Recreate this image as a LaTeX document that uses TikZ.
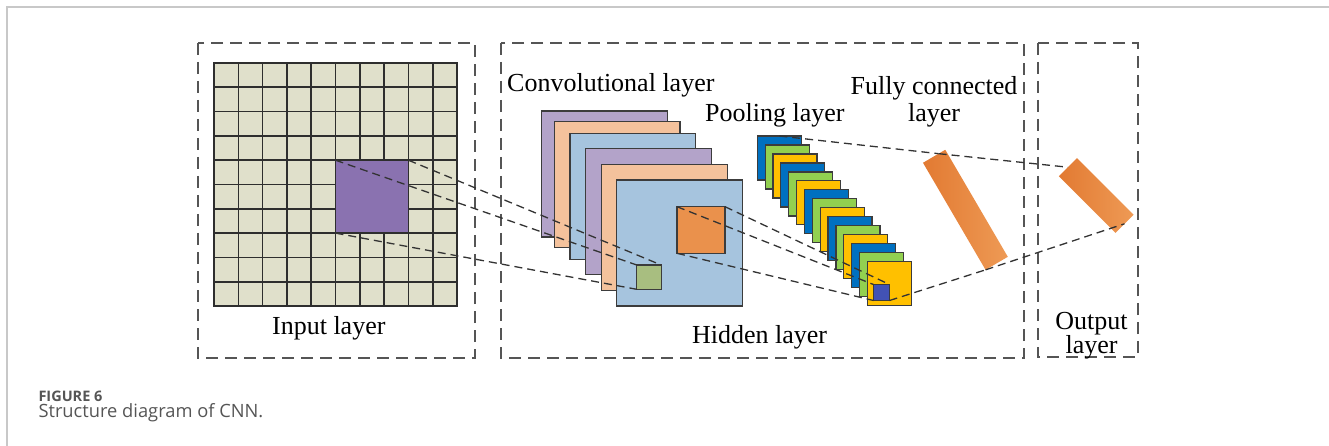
\documentclass[tikz,border=0pt]{standalone}
\usepackage{fontspec}
\setmainfont{Liberation Serif}
\newfontfamily\capfont{Open Sans}
\usetikzlibrary{calc}

\definecolor{gridfill}{HTML}{E0E0CB}
\definecolor{gridline}{HTML}{2E2E2E}
\definecolor{kernel}{HTML}{8A72B0}
\definecolor{lav}{HTML}{B3A3C9}
\definecolor{peach}{HTML}{F4C29C}
\definecolor{sky}{HTML}{A6C4DE}
\definecolor{fmapc}{HTML}{EA914C}
\definecolor{patchc}{HTML}{A8BE80}
\definecolor{pb}{HTML}{0070C0}
\definecolor{pg}{HTML}{92D050}
\definecolor{py}{HTML}{FFC000}
\definecolor{unitc}{HTML}{4252B5}
\definecolor{barlight}{HTML}{EE9A55}
\definecolor{bardark}{HTML}{E27A32}
\definecolor{edge}{HTML}{3C3C3C}
\definecolor{boxline}{HTML}{555555}
\definecolor{linkc}{HTML}{333333}
\definecolor{framec}{HTML}{C8C8C8}
\definecolor{capgray}{HTML}{555555}

\tikzset{
  box/.style={draw=boxline, line width=1.5pt, dash pattern=on 12pt off 7pt},
  sheet/.style={draw=edge, line width=1.4pt, anchor=north west, inner sep=0pt, outer sep=0pt,
                minimum width=125.5pt, minimum height=126pt},
  psheet/.style={draw=edge, line width=1.2pt, anchor=north west, inner sep=0pt, outer sep=0pt,
                 minimum width=44pt, minimum height=44pt},
  square/.style={draw=edge, line width=1.4pt, anchor=north west, inner sep=0pt, outer sep=0pt},
  bar/.style={inner sep=0pt, outer sep=0pt, left color=bardark, right color=barlight},
  link/.style={draw=linkc, line width=1.3pt, dash pattern=on 8pt off 5pt},
  lbl/.style={font=\fontsize{26}{28}\selectfont, inner sep=0pt},
  gridrule/.style={draw=gridline, line width=1.6pt},
}

\begin{document}
\begin{tikzpicture}[x=1pt,y=-1pt]
\useasboundingbox (0,0) rectangle (1329,446);

% page frame
\draw[draw=framec, line width=1.5pt] (7,446) -- (7,7) -- (1329,7);

% dashed group boxes
\draw[box] (198,43) rectangle (475,358);
\draw[box] (501,43) rectangle (1024,358);
\draw[box] (1038,43) rectangle (1138,357);

% input grid 10 x 10
\node[gridrule, fill=gridfill, anchor=north west, inner sep=0pt, outer sep=0pt,
      minimum width=243pt, minimum height=243pt] (input) at (214,63) {};
\foreach \i in {1,...,9}{
  \draw[gridrule] ($(input.north west)+(\i*24.3,0)$) -- ($(input.south west)+(\i*24.3,0)$);
  \draw[gridrule] ($(input.north west)+(0,\i*24.3)$) -- ($(input.north east)+(0,\i*24.3)$);
}
\node[square, fill=kernel, draw=gridline, minimum width=72.9pt, minimum height=72.9pt] (kern) at (335.5,160.2) {};

% convolutional feature maps
\node[sheet, fill=lav]   (c1) at (541.7,111) {};
\node[sheet, fill=peach] (c2) at (554.3,121.7) {};
\node[sheet, fill=sky]   (c3) at (570,133.3) {};
\node[sheet, fill=lav]   (c4) at (585.7,148.3) {};
\node[sheet, fill=peach] (c5) at (601.7,164.3) {};
\node[sheet, fill=sky]   (c6) at (616.7,180) {};
\node[square, fill=fmapc, minimum width=48pt, minimum height=46.6pt] (fmap) at (677,206.7) {};
\node[square, fill=patchc, minimum width=24.5pt, minimum height=24.3pt] (patch) at (636.7,265) {};

% pooling maps
\foreach \i/\c in {0/pb,1/pg,2/py,3/pb,4/pg,5/py,6/pb,7/pg,8/py,9/pb,10/pg,11/py,12/pb,13/pg,14/py}{
  \node[psheet, fill=\c] (p\i) at (757.3+\i*7.86, 136+\i*8.98) {};
}
\node[square, fill=unitc, line width=1.2pt, minimum width=16pt, minimum height=16pt] (unit) at (873.5,284.5) {};

% fully connected and output bars
\node[bar, minimum width=124pt, minimum height=25.8pt, rotate=-59.7] (fc) at (965.4,209.8) {};
\node[bar, minimum width=80pt, minimum height=25.5pt, rotate=-45] (out) at (1096.2,195.5) {};
\coordinate (fctop) at ($(fc.north west)!0.3!(fc.south west)$);

% connections
\draw[link] (kern.north west) -- (patch.north west);
\draw[link] (kern.north east) -- (patch.north east);
\draw[link] (kern.south west) -- (patch.south west);
\draw[link] (fmap.north west) -- (unit.north west);
\draw[link] (fmap.north east) -- (unit.north east);
\draw[link] (fmap.south west) -- (unit.south west);
\draw[link] (p0.north) -- (fctop);
\draw[link] (fctop) -- (out.west);
\draw[link] (unit.south east) -- (fc.south east);
\draw[link] (fc.south east) -- (out.east);

% labels
\node[lbl, anchor=base] (linput) at (328.8,334) {Input layer};
\node[lbl, anchor=base west] (lconv) at (507,92) {Convolutional layer};
\node[lbl, anchor=base west] (lpool) at (705,122) {Pooling layer};
\node[lbl, anchor=base] (lfc1) at (934,95) {Fully connected};
\node[lbl, anchor=base] (lfc2) at (934,122) {layer};
\node[lbl, anchor=base] (lhid) at (759.5,343) {Hidden layer};
\node[lbl, align=center, font=\fontsize{26}{23}\selectfont] (lout) at (1091.5,335.5) {Output\\layer};

% caption
\node[anchor=base west, inner sep=0pt, text=capgray, font=\capfont\bfseries\fontsize{14.5}{16}\selectfont] (figno) at (38.3,401.7) {FIGURE 6};
\node[anchor=base west, inner sep=0pt, text=capgray, font=\capfont\fontsize{18.3}{20}\selectfont] (figcap) at (38.3,417) {Structure diagram of CNN.};
\end{tikzpicture}
\end{document}
